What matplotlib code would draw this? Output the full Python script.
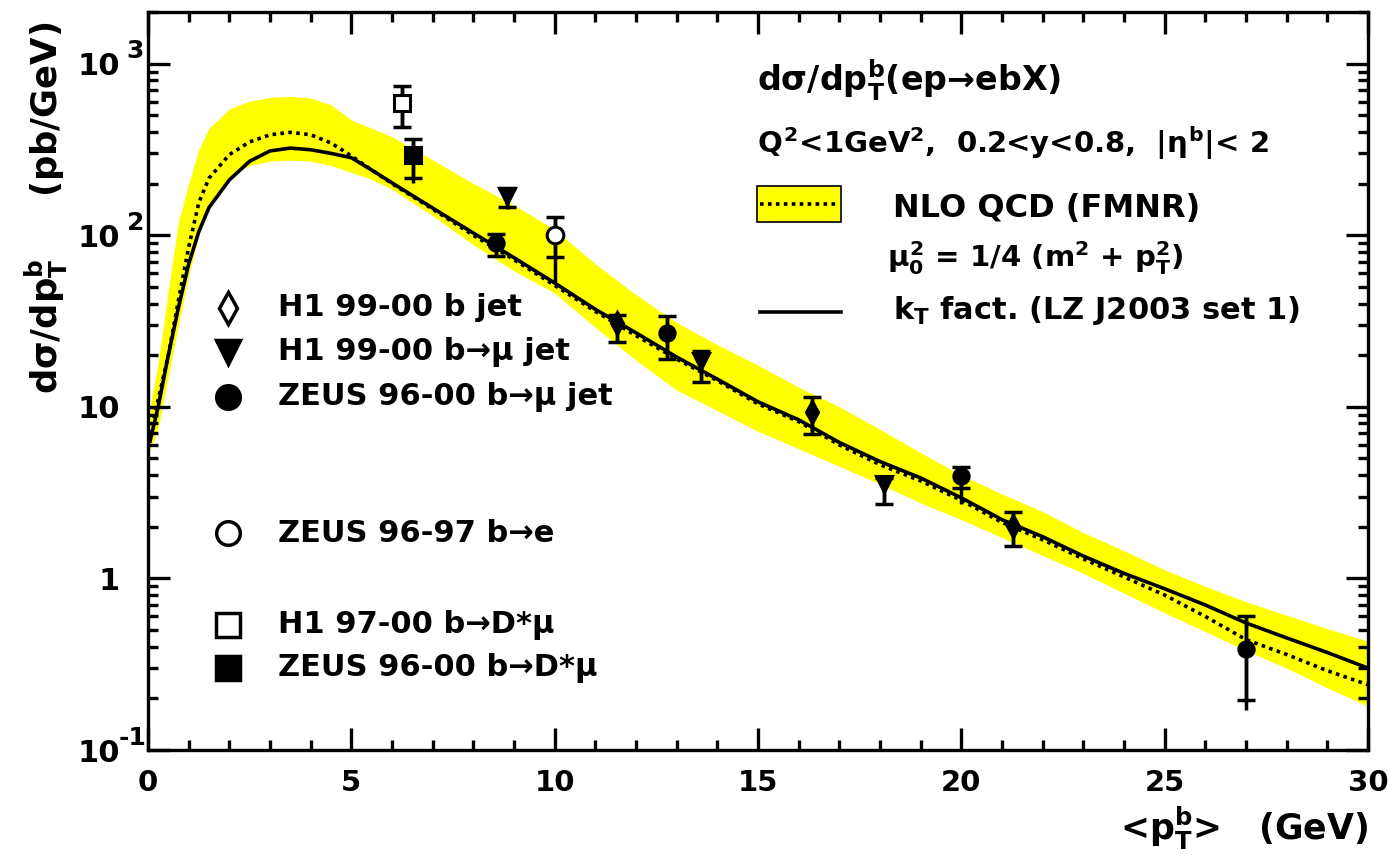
import numpy as np
import matplotlib
matplotlib.use("Agg")
import matplotlib.pyplot as plt
from matplotlib.patches import Rectangle
from matplotlib.ticker import FixedLocator, FuncFormatter, LogLocator, NullFormatter

plt.rcParams['font.family'] = ['DejaVu Sans']
plt.rcParams['font.weight'] = 'bold'
plt.rcParams['mathtext.fontset'] = 'custom'
plt.rcParams['mathtext.rm'] = 'DejaVu Sans:bold'
plt.rcParams['mathtext.it'] = 'DejaVu Sans:bold'
plt.rcParams['mathtext.bf'] = 'DejaVu Sans:bold'
plt.rcParams['mathtext.sf'] = 'DejaVu Sans:bold'

# ── theory curves ────────────────────────────────────────────
pt_curve = [0.05, 0.25, 0.5, 0.75, 1.0, 1.25, 1.5, 2.0, 2.5, 3.0, 3.5, 4.0,
            4.5, 5.0, 5.5, 6.0, 7.0, 8.0, 9.0, 10.0, 11.0, 12.0, 13.0, 14.0,
            15.0, 16.0, 17.0, 18.0, 19.0, 20.0, 21.0, 22.0, 23.0, 24.0, 25.0,
            26.0, 27.0, 28.0, 29.0, 30.0]
nlo_up   = [10, 18, 48, 120, 200, 315, 420, 545, 605, 635, 645, 630,
            575, 470, 420, 375, 275, 200, 150, 108, 68, 45, 31, 23,
            17.5, 13, 10, 7.4, 5.4, 4.0, 3.1, 2.45, 1.85, 1.45, 1.12,
            0.90, 0.73, 0.61, 0.51, 0.43]
nlo_dn   = [5.5, 7.5, 15, 30, 58, 100, 150, 220, 255, 270, 274, 270,
            255, 232, 212, 185, 130, 88, 62, 46, 29, 18.7, 12.5, 9.5,
            7.2, 5.7, 4.5, 3.55, 2.75, 2.2, 1.73, 1.36, 1.07, 0.82, 0.63,
            0.49, 0.38, 0.30, 0.23, 0.18]
nlo_cen  = [7, 11, 20, 42, 85, 155, 215, 295, 350, 385, 398, 385,
            345, 290, 240, 200, 142, 100, 72, 51, 36, 26, 19, 14.2,
            10.4, 8.2, 6.0, 4.6, 3.7, 2.85, 2.12, 1.68, 1.3, 1.02, 0.80,
            0.60, 0.44, 0.36, 0.29, 0.24]
kt_fact  = [6.3, 10, 20, 38, 68, 105, 145, 210, 270, 310, 322, 315,
            300, 283, 240, 202, 144, 103, 74, 52.7, 37, 27, 19.5, 14.5,
            10.7, 8.4, 6.2, 4.8, 3.85, 2.95, 2.2, 1.75, 1.35, 1.07, 0.87,
            0.70, 0.55, 0.45, 0.37, 0.30]

# ── data: x, y, stat up/down, total up/down ─────────────────
h1_jet_x      = [11.53, 16.33, 21.27]
h1_jet_y      = [31, 9.3, 2.03]
h1_jet_sup    = [3.4, 2.1, 0.41]
h1_jet_sdn    = [7.0, 2.4, 0.48]
h1_jet_tup    = [3.4, 2.1, 0.41]
h1_jet_tdn    = [7.0, 2.4, 0.48]

h1_mu_x       = [8.83, 13.6, 18.1]
h1_mu_y       = [170, 18.4, 3.55]
h1_mu_sup     = [18, 2.8, 0.3]
h1_mu_sdn     = [24, 4.5, 0.85]
h1_mu_tup     = [22, 2.8, 0.3]
h1_mu_tdn     = [28, 4.5, 0.85]

zeus_mu_x     = [8.55, 12.76, 20.0, 27.0]
zeus_mu_y     = [90, 27, 3.95, 0.39]
zeus_mu_sup   = [12, 7, 0.5, 0.21]
zeus_mu_sdn   = [14, 8, 0.6, 0.195]
zeus_mu_tup   = [12, 7, 0.5, 0.21]
zeus_mu_tdn   = [14, 8, 1.25, 0.22]

zeus_e_x      = [10.0]
zeus_e_y      = [100]
zeus_e_sup    = [28]
zeus_e_sdn    = [25]
zeus_e_tup    = [28]
zeus_e_tdn    = [47]

h1_dst_x      = [6.24]
h1_dst_y      = [590]
h1_dst_sup    = [155]
h1_dst_sdn    = [165]
h1_dst_tup    = [160]
h1_dst_tdn    = [170]

zeus_dst_x    = [6.52]
zeus_dst_y    = [292]
zeus_dst_sup  = [70]
zeus_dst_sdn  = [77]
zeus_dst_tup  = [75]
zeus_dst_tdn  = [90]

fig = plt.figure(figsize=(13.88, 8.55), dpi=100)
ax = fig.add_axes([148 / 1388, 105 / 855, 1220 / 1388, 738 / 855])

ax.fill_between(pt_curve, nlo_dn, nlo_up, color="#ffff00", lw=0, zorder=1)
ax.plot(pt_curve, nlo_cen, color="black", lw=2.6, ls=(0, (1, 1.2)), zorder=2)
ax.plot(pt_curve, kt_fact, color="black", lw=2.6, zorder=3)


def draw_set(x, y, sup, sdn, tup, tdn, marker, filled, ms):
    ax.errorbar(x, y, yerr=[tdn, tup], fmt="none", ecolor="black",
                elinewidth=2.5, capsize=0, zorder=4)
    ax.errorbar(x, y, yerr=[sdn, sup], fmt="none", ecolor="black",
                elinewidth=2.5, capsize=6.5, capthick=2.5, zorder=4)
    ax.plot(x, y, ls="none", marker=marker, ms=ms,
            mfc="black" if filled else "white", mec="black", mew=2.2,
            zorder=5)


draw_set(h1_jet_x, h1_jet_y, h1_jet_sup, h1_jet_sdn, h1_jet_tup, h1_jet_tdn, "d", True, 11)
draw_set(h1_mu_x, h1_mu_y, h1_mu_sup, h1_mu_sdn, h1_mu_tup, h1_mu_tdn, "v", True, 11)
draw_set(zeus_mu_x, zeus_mu_y, zeus_mu_sup, zeus_mu_sdn, zeus_mu_tup, zeus_mu_tdn, "o", True, 11)
draw_set(zeus_e_x, zeus_e_y, zeus_e_sup, zeus_e_sdn, zeus_e_tup, zeus_e_tdn, "o", False, 12)
draw_set(h1_dst_x, h1_dst_y, h1_dst_sup, h1_dst_sdn, h1_dst_tup, h1_dst_tdn, "s", False, 12)
draw_set(zeus_dst_x, zeus_dst_y, zeus_dst_sup, zeus_dst_sdn, zeus_dst_tup, zeus_dst_tdn, "s", True, 12)

# ── axes ─────────────────────────────────────────────────────
ax.set_yscale("log")
ax.set_xlim(0, 30)
ax.set_ylim(0.1, 2000)
ax.xaxis.set_major_locator(FixedLocator([0, 5, 10, 15, 20, 25, 30]))
ax.xaxis.set_minor_locator(FixedLocator(np.arange(0, 31, 1)))
ax.yaxis.set_major_locator(LogLocator(base=10, numticks=20))
ax.yaxis.set_minor_locator(LogLocator(base=10, subs=np.arange(2, 10), numticks=20))
ax.yaxis.set_minor_formatter(NullFormatter())
ax.yaxis.set_major_formatter(FuncFormatter(
    lambda v, p: "1" if abs(v - 1) < 1e-6 else "10"))

# exponents of the y labels
for val, ex in [(1000, "3"), (100, "2"), (0.1, "-1")]:
    ax.annotate(ex, xy=(-0.0175 if ex != "-1" else -0.024, val),
                xycoords=("axes fraction", "data"),
                xytext=(0, 9), textcoords="offset points",
                ha="left", va="center", fontsize=18)

ax.tick_params(which="both", direction="in", top=True, right=True, width=2.4)
ax.tick_params(which="major", length=16)
ax.tick_params(which="minor", length=7.5)
ax.tick_params(axis="x", labelsize=21, pad=14)
ax.tick_params(axis="y", labelsize=22, pad=20)
for s in ax.spines.values():
    s.set_linewidth(2.4)

fig.text(1368 / 1388, 1 - 828 / 855, r"<p$_T^b$>   (GeV)", ha="right",
         va="center", fontsize=25, fontweight="bold")
fig.text(46 / 1388, 1 - 22 / 855, r"d$\sigma$/dp$_T^b$     (pb/GeV)",
         rotation=90, ha="center", va="top", fontsize=25.5, fontweight="bold")

# ── legend, right ────────────────────────────────────────────
fs = 22
ax.text(0.499, 0.908, r"d$\sigma$/dp$_T^b$(ep→ebX)", transform=ax.transAxes,
        fontsize=24, va="center")
ax.text(0.499, 0.8225, r"$Q^2$<1GeV$^2$,  0.2<y<0.8,  |$\eta^b$|< 2",
        transform=ax.transAxes, fontsize=21, va="center")
ax.add_patch(Rectangle((0.499, 0.715), 0.069, 0.049, transform=ax.transAxes,
                       fc="#ffff00", ec="black", lw=1.2, zorder=6))
ax.plot([0.502, 0.565], [0.7395, 0.7395], transform=ax.transAxes, color="black",
        lw=2.6, ls=(0, (1, 1.2)), zorder=7)
ax.text(0.6107, 0.734, "NLO QCD (FMNR)", transform=ax.transAxes,
        fontsize=23, va="center")
ax.text(0.606, 0.667, r"$\mu_0^2$ = 1/4 (m$^2$ + p$_T^2$)", transform=ax.transAxes,
        fontsize=21, va="center")
ax.plot([0.502, 0.568], [0.5935, 0.5935], transform=ax.transAxes, color="black",
        lw=2.6)
ax.text(0.6107, 0.596, r"k$_T$ fact. (LZ J2003 set 1)", transform=ax.transAxes,
        fontsize=fs, va="center")

# ── legend, left ─────────────────────────────────────────────
leg_rows = [
    (0.599, "d", False, "H1 99-00 b jet"),
    (0.539, "v", True, "H1 99-00 b→μ jet"),
    (0.478, "o", True, "ZEUS 96-00 b→μ jet"),
    (0.294, "o", False, "ZEUS 96-97 b→e"),
    (0.169, "s", False, "H1 97-00 b→D*μ"),
    (0.111, "s", True, "ZEUS 96-00 b→D*μ"),
]
for yy, m, filled, lab in leg_rows:
    ax.plot([0.0656], [yy], transform=ax.transAxes, marker=m,
            ms=17 if m != "d" else 16,
            mfc="black" if filled else "white", mec="black", mew=2.5, ls="none")
    ax.text(0.1066, yy, lab, transform=ax.transAxes, fontsize=fs, va="center")

fig.savefig("out.png", dpi=100)
